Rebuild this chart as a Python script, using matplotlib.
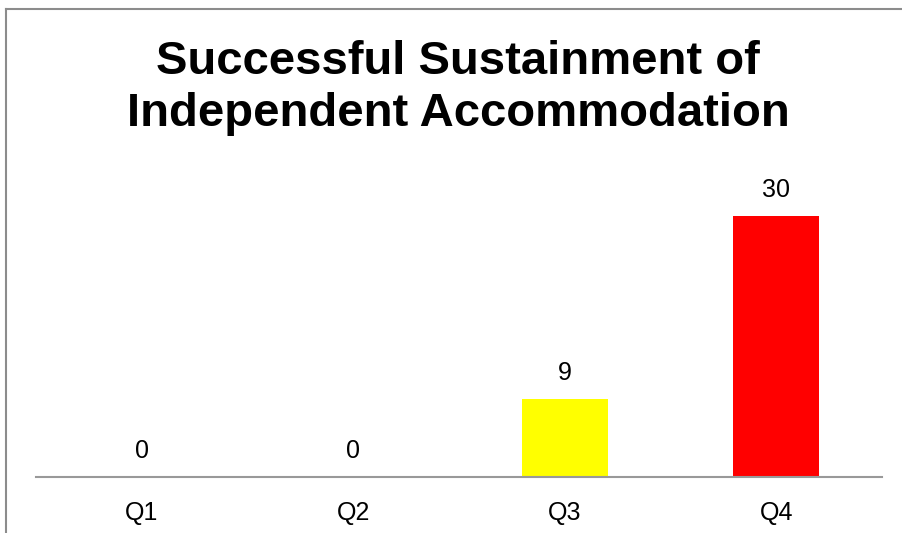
import matplotlib.pyplot as plt
from matplotlib.lines import Line2D

# data
quarters = ["Q1", "Q2", "Q3", "Q4"]
values = [0, 0, 9, 30]
bar_colors = ["#FFFF00", "#FFFF00", "#FFFF00", "#FF0000"]

plt.rcParams["font.family"] = ["Liberation Sans", "DejaVu Sans"]

fig = plt.figure(figsize=(9.03, 5.33), dpi=100)
W, H = 903, 533

# chart frame (left and top edges visible)
fig.add_artist(Line2D([6 / W, 6 / W], [0, 1 - 9 / H], transform=fig.transFigure,
                      color="#8c8c8c", linewidth=1.5))
fig.add_artist(Line2D([6 / W, 1], [1 - 9 / H, 1 - 9 / H], transform=fig.transFigure,
                      color="#8c8c8c", linewidth=1.5))

ax = fig.add_axes([36 / W, 1 - 477 / H, (882 - 36) / W, (477 - 172.5) / H])
x = range(len(quarters))
bars = ax.bar(x, values, width=0.405, color=bar_colors)

ax.set_xlim(-0.5, len(quarters) - 0.5)
ax.set_ylim(0, 35)

for xi, v in zip(x, values):
    ax.annotate(str(v), (xi, v), xytext=(0, 10), textcoords="offset points",
                ha="center", va="bottom", fontsize=18)

ax.set_xticks(list(x))
ax.set_xticklabels(quarters, fontsize=18)
ax.tick_params(axis="x", length=0, pad=17)
ax.set_yticks([])

for side in ["top", "right", "left"]:
    ax.spines[side].set_visible(False)
ax.spines["bottom"].set_color("#999999")
ax.spines["bottom"].set_linewidth(1.5)

fig.text(458 / W, 1 - 88 / H, "Successful Sustainment of\nIndependent Accommodation",
         ha="center", va="center", fontsize=34, fontweight="bold", linespacing=1.22)

plt.savefig("out.png", dpi=100)
plt.close()
